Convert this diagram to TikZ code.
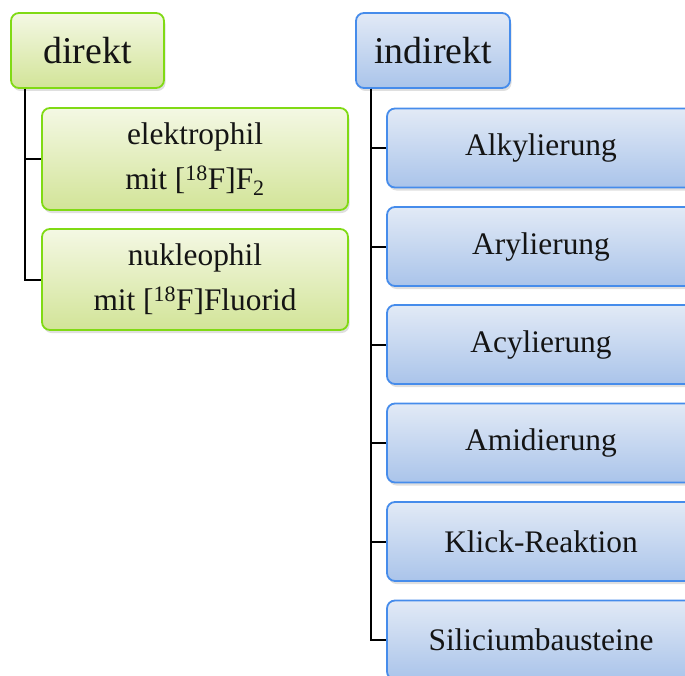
\documentclass[tikz,border=0pt]{standalone}
\usepackage{fontspec}
\setmainfont{Liberation Serif}
\usepackage{xcolor}
\usepackage{tikz}
\usetikzlibrary{positioning, shadows, calc}
\definecolor{leafline}{RGB}{128,218,20}
\definecolor{leaftop}{RGB}{244,248,228}
\definecolor{leafbot}{RGB}{210,228,152}
\definecolor{skyline}{RGB}{70,140,235}
\definecolor{skytop}{RGB}{226,234,246}
\definecolor{skybot}{RGB}{170,196,234}
\definecolor{inkdark}{RGB}{20,20,20}

\begin{document}
\begin{tikzpicture}[x=1bp, y=-1bp,
    every node/.style={text=inkdark, inner sep=0pt},
    boxbase/.style={draw, rounded corners=8bp, line width=1.8bp, align=center,
        drop shadow={opacity=0.25, shadow xshift=1.5bp, shadow yshift=-3bp}},
    greenbox/.style={boxbase, draw=leafline, top color=leaftop, bottom color=leafbot},
    bluebox/.style={boxbase, draw=skyline, top color=skytop, bottom color=skybot},
    headtext/.style={font=\fontsize{38}{44}\selectfont},
    itemtext/.style={font=\fontsize{31.5}{45}\selectfont},
    branch/.style={draw=black, line width=2bp}]
    \clip (0,0) rectangle (685,676);
    % left branch
    \node[greenbox, headtext, minimum width=153bp, minimum height=75bp] (direkt) at (87.5,50.5) {direkt};
    \node[greenbox, itemtext, minimum width=306bp, minimum height=102bp] (elektro) at (195,159) {elektrophil\\mit [\textsuperscript{18}F]F\textsubscript{2}};
    \node[greenbox, itemtext, minimum width=306bp, minimum height=101bp] (nukleo) at (195,279.5) {nukleophil\\mit [\textsuperscript{18}F]Fluorid};
    % right branch
    \node[bluebox, headtext, minimum width=154bp, minimum height=75bp] (indirekt) at (433,50.5) {indirekt};
    \node[bluebox, itemtext, minimum width=308bp, minimum height=79bp] (alkyl) at (541,148) {Alkylierung};
    \node[bluebox, itemtext, minimum width=308bp, minimum height=79bp] (aryl) at (541,246.5) {Arylierung};
    \node[bluebox, itemtext, minimum width=308bp, minimum height=79bp] (acyl) at (541,344.5) {Acylierung};
    \node[bluebox, itemtext, minimum width=308bp, minimum height=79bp] (amid) at (541,443) {Amidierung};
    \node[bluebox, itemtext, minimum width=308bp, minimum height=79bp] (klick) at (541,541.5) {Klick-Reaktion};
    \node[bluebox, itemtext, minimum width=308bp, minimum height=79bp] (silic) at (541,640) {Siliciumbausteine};
    % connectors
    \draw[branch] ([xshift=15bp]direkt.south west) |- (elektro.west);
    \draw[branch] ([xshift=15bp]direkt.south west) |- (nukleo.west);
    \foreach \kid in {alkyl, aryl, acyl, amid, klick, silic}
        \draw[branch] ([xshift=16bp]indirekt.south west) |- (\kid.west);
\end{tikzpicture}
\end{document}
